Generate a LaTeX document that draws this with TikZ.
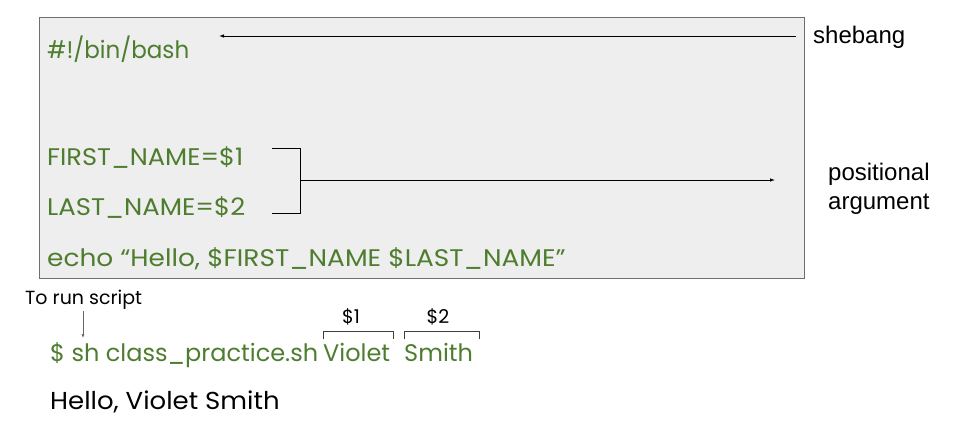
\documentclass[tikz,border=0pt]{standalone}
\usepackage{fontspec}
\usepackage{graphicx}
\setmainfont{Poppins}
\newfontfamily\labelfont{Liberation Sans}
\usetikzlibrary{arrows.meta}
\definecolor{codegreen}{HTML}{4E7D2F}
\definecolor{panelgray}{HTML}{EEEEEE}
\definecolor{panelline}{HTML}{6E6E6E}
% widen a line of text horizontally
\newcommand{\widetext}[2]{\scalebox{#1}[1]{#2}}
\tikzset{
  code/.style={anchor=base west, inner sep=0pt, text=codegreen, font=\fontsize{24}{28}\selectfont},
  plain/.style={anchor=base west, inner sep=0pt, text=black, font=\fontsize{24.5}{28}\selectfont},
  note/.style={inner sep=0pt, font=\labelfont\fontsize{24}{29}\selectfont, align=left},
  small/.style={anchor=base west, inner sep=0pt, font=\fontsize{19}{22}\selectfont},
  pointer/.style={-{Latex[length=5pt,width=3.5pt]}, line width=0.8pt},
  brace/.style={line width=0.8pt, draw=black!75},
}
\begin{document}
\begin{tikzpicture}[x=1pt,y=-1pt]
  \useasboundingbox (0,0) rectangle (974,424);

  % script panel
  \node[draw=panelline, fill=panelgray, line width=0.9pt, minimum width=765pt, minimum height=261pt,
        anchor=north west, inner sep=0pt] (panel) at (39,17) {};

  \node[code] (shebangline) at (47,58) {\widetext{0.96}{\#!/bin/bash}};
  \node[code] (first) at (47,165) {\widetext{1.07}{FIRST\_NAME=\$1}};
  \node[code] (last) at (47,215) {\widetext{1.08}{LAST\_NAME=\$2}};
  \node[code] (echo) at (47,266) {\widetext{1.10}{echo “Hello, \$FIRST\_NAME \$LAST\_NAME”}};

  % annotations on the right
  \node[note, anchor=west] (shebang) at (813,37) {shebang};
  \node[note, anchor=west] (positional) at (828,189) {positional\\argument};

  \coordinate (shebangfrom) at (796,36);
  \coordinate (shebangto) at (219,36);
  \draw[pointer] (shebangfrom) -- (shebangto);

  % bracket joining the two positional assignments
  \coordinate (b1) at (272,148);
  \coordinate (b2) at (300,148);
  \coordinate (b3) at (300,213);
  \coordinate (b4) at (272,213);
  \coordinate (bm) at (300,180);
  \coordinate (posto) at (775,180);
  \draw[line width=0.8pt] (b1) -- (b2) -- (b3) -- (b4);
  \draw[pointer] (bm) -- (posto);

  % running the script
  \node[small] (torun) at (25,304) {To run script};
  \coordinate (runfrom) at (83,311);
  \coordinate (runto) at (83,338);
  \draw[-{Latex[length=4pt,width=3pt]}, line width=0.6pt, draw=black!60] (runfrom) -- (runto);

  \node[code] (cmd) at (50,361) {\$ sh class\_practice.sh};
  \node[code] (violet) at (323,361) {Violet};
  \node[code] (smith) at (404,361) {Smith};

  \draw[brace] (323,339) -- (323,331) -- (393,331) -- (393,339);
  \draw[brace] (404,339) -- (404,331) -- (479,331) -- (479,339);
  \node[small, anchor=base] (arg1) at (351,323) {\$1};
  \node[small, anchor=base] (arg2) at (438,323) {\$2};

  \node[plain] (output) at (50,409) {\widetext{1.06}{Hello, Violet Smith}};
\end{tikzpicture}
\end{document}
